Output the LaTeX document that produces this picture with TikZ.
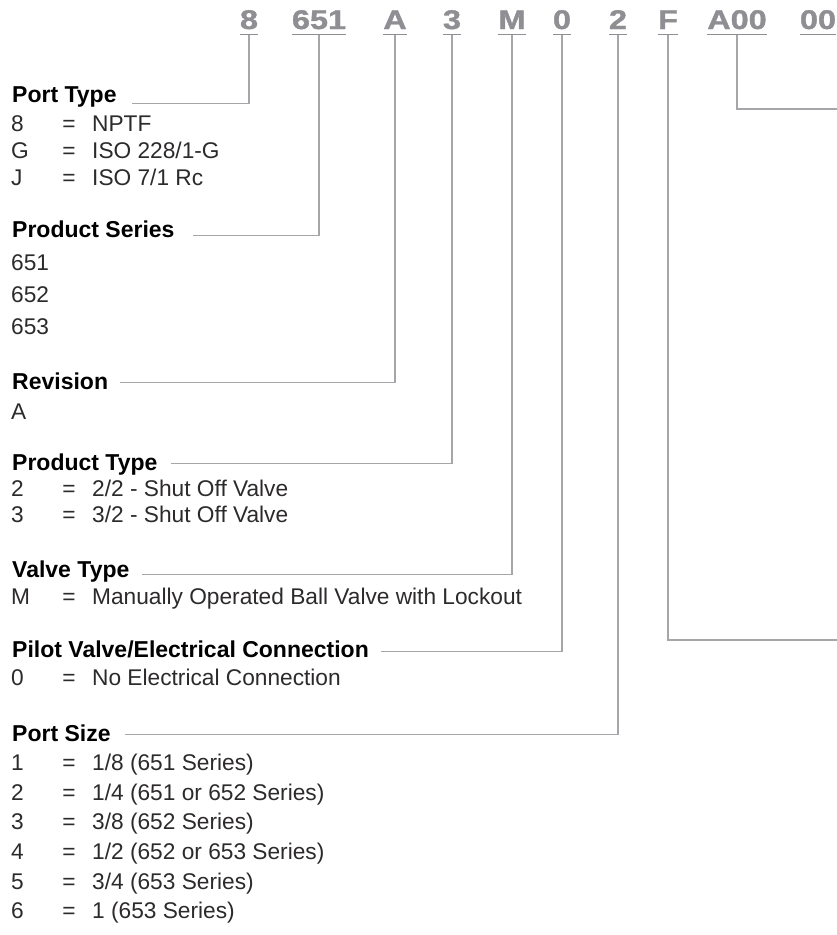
\documentclass[tikz,border=0pt]{standalone}
\usepackage{fontspec}
\setmainfont{Liberation Sans}
\newfontfamily\codefont{Liberation Sans}[BoldFeatures={FakeBold=1.2}]
\definecolor{codegray}{RGB}{142,142,147}
\definecolor{linegray}{RGB}{165,165,170}
\definecolor{ink}{RGB}{45,42,43}
\newcommand\Row[4]{%
  \node[item] (#1k) at (11,#2) {#3};
  \node[eqs] (#1e) at (69,#2) {=};
  \node[item] (#1v) at (92,#2) {#4};}
\newcommand\Code[3]{\node[code] (#1) at (#2,29) {\scalebox{1.2}[1]{#3}};
  \draw[uline] ([yshift=-5.5pt]#1.south west) -- ([yshift=-5.5pt]#1.south east);
  \coordinate (#1u) at ([yshift=-5.5pt]#1.south);}
\begin{document}
\begin{tikzpicture}[x=1pt,y=-1pt,
  code/.style={anchor=base, inner sep=0pt, text depth=0pt, text=codegray,
    font=\codefont\fontsize{27}{27}\selectfont\bfseries},
  hdr/.style={anchor=base west, inner sep=0pt, text depth=0pt,
    font=\fontsize{23}{23}\selectfont\bfseries, text=black},
  item/.style={anchor=base west, inner sep=0pt, text=ink,
    font=\fontsize{22.7}{22.7}\selectfont},
  eqs/.style={anchor=base, inner sep=0pt, text=ink,
    font=\fontsize{22.7}{22.7}\selectfont},
  leader/.style={draw=linegray, line width=1.3pt},
  uline/.style={draw=codegray, line width=1.4pt}]
\useasboundingbox (0,0) rectangle (837,935);
\fill[white] (0,0) rectangle (837,935);

% ---- code ----
\Code{c8}{249}{8}
\Code{c651}{319}{651}
\Code{cA}{395}{A}
\Code{c3}{452}{3}
\Code{cM}{512}{M}
\Code{c0}{562}{0}
\Code{c2}{618}{2}
\Code{cF}{668}{F}
\Code{cAoo}{737}{A00}
\Code{coo}{818}{00}

% ---- headers ----
\node[hdr] (hPT) at (12,102) {Port Type};
\node[hdr] (hPS) at (12,237) {Product Series};
\node[hdr] (hRev) at (12,389) {Revision};
\node[hdr] (hPrT) at (12,470) {Product Type};
\node[hdr] (hVT) at (12,577) {Valve Type};
\node[hdr] (hPV) at (12,657) {Pilot Valve/Electrical Connection};
\node[hdr] (hSz) at (12,741) {Port Size};

% ---- items ----
\Row{pt1}{131}{8}{NPTF}
\Row{pt2}{158}{G}{ISO 228/1-G}
\Row{pt3}{185}{J}{ISO 7/1 Rc}
\node[item] (ps1) at (11,270) {651};
\node[item] (ps2) at (11,302) {652};
\node[item] (ps3) at (11,334) {653};
\node[item] (rv1) at (11,419) {A};
\Row{ty1}{496}{2}{2/2 - Shut Off Valve}
\Row{ty2}{522}{3}{3/2 - Shut Off Valve}
\Row{vt1}{604}{M}{Manually Operated Ball Valve with Lockout}
\Row{pv1}{685}{0}{No Electrical Connection}
\Row{sz1}{770}{1}{1/8 (651 Series)}
\Row{sz2}{800}{2}{1/4 (651 or 652 Series)}
\Row{sz3}{829}{3}{3/8 (652 Series)}
\Row{sz4}{859}{4}{1/2 (652 or 653 Series)}
\Row{sz5}{889}{5}{3/4 (653 Series)}
\Row{sz6}{918}{6}{1 (653 Series)}

% ---- leaders ----
\draw[leader] (c8u) |- ([xshift=15pt,yshift=-1pt]hPT.south east);
\draw[leader] (c651u) |- ([xshift=18pt,yshift=2pt]hPS.south east);
\draw[leader] (cAu) |- ([xshift=12pt,yshift=7pt]hRev.south east);
\draw[leader] (c3u) |- ([xshift=13pt,yshift=7pt]hPrT.south east);
\draw[leader] (cMu) |- ([xshift=12pt,yshift=3pt]hVT.south east);
\draw[leader] (c0u) |- ([xshift=12pt,yshift=6pt]hPV.south east);
\draw[leader] (c2u) |- ([xshift=14pt,yshift=7pt]hSz.south east);
\coordinate (eF) at (837,640);
\coordinate (eA) at (837,109);
\draw[leader] (cFu) |- (eF);
\draw[leader] (cAoou) |- (eA);
\end{tikzpicture}
\end{document}
